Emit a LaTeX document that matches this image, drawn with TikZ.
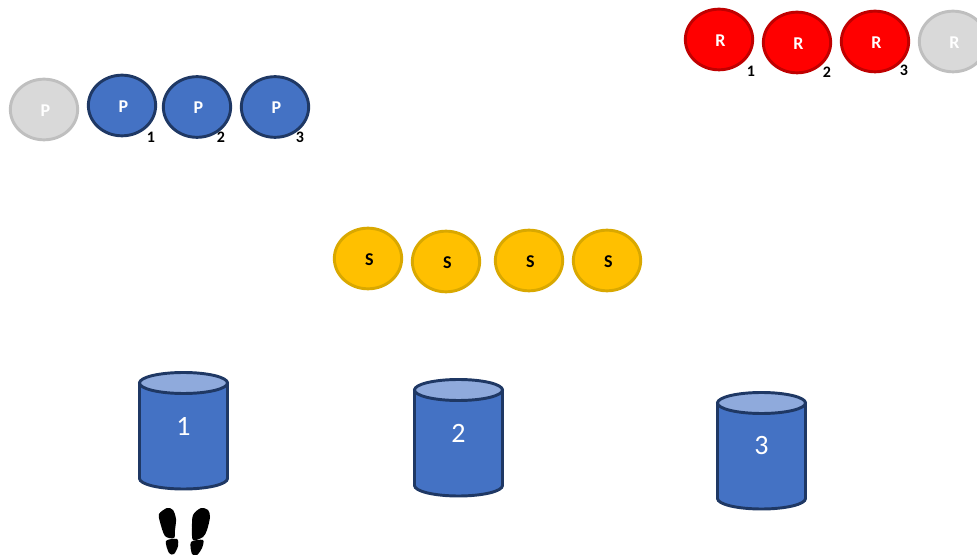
\documentclass[tikz,border=0pt]{standalone}
\usepackage{fontspec}
\setmainfont{Carlito}
\usetikzlibrary{shapes.geometric}
\definecolor{blueball}{HTML}{4472C4}
\definecolor{blueedge}{HTML}{1F3864}
\definecolor{bluetop}{HTML}{8FAADC}
\definecolor{redball}{HTML}{FF0000}
\definecolor{rededge}{HTML}{C00000}
\definecolor{goldball}{HTML}{FFC000}
\definecolor{goldedge}{HTML}{D9A800}
\definecolor{grayball}{HTML}{D9D9D9}
\definecolor{grayedge}{HTML}{BFBFBF}
\tikzset{
	ball/.style={ellipse, minimum width=50.5pt, minimum height=45.5pt, inner sep=0pt, outer sep=0pt, line width=2.2pt, text height=10.2pt, text depth=0pt, execute at begin node=\hspace*{2.2pt}, font=\bfseries\fontsize{13.5}{14}\selectfont},
	pball/.style={ball, draw=blueedge, fill=blueball, text=white},
	rball/.style={ball, draw=rededge, fill=redball, text=white},
	sball/.style={ball, draw=goldedge, fill=goldball, text=black},
	offball/.style={ball, draw=grayedge, fill=grayball, text=white},
	tag/.style={inner sep=0pt, font=\bfseries\fontsize{12}{13}\selectfont},
	tankbody/.style={draw=blueedge, fill=blueball, line width=2.2pt},
	tanktop/.style={draw=blueedge, fill=bluetop, line width=2.2pt},
	tanktext/.style={text=white, inner sep=0pt, font=\fontsize{21}{24}\selectfont},
	foot/.style={fill=black, draw=none}
}
\begin{document}
\begin{tikzpicture}[x=.75pt, y=-.75pt]
	\clip (0,0) rectangle (977,555);
	% gray ones
	\node[offball] (pball0) at (44,109.5) {P};
	\node[offball] (rball4) at (953,41.5) {R};
	% blue row
	\foreach \x/\y/\a/\b [count = \xi] in {122/105.5/151/137, 197/107/221/137, 275/107/300/137}
		{
			\node[pball] (pball\xi) at (\x,\y) {P};
			\node[tag] (ptag\xi) at (\a,\b) {\xi};
		}
	% red row
	\foreach \x/\y/\a/\b [count = \xi] in {719/39.5/751/71, 797/42.5/827/72, 875/41.5/904/70}
		{
			\node[rball] (rball\xi) at (\x,\y) {R};
			\node[tag] (rtag\xi) at (\a,\b) {\xi};
		}
	% middle row
	\foreach \x/\y [count = \xi] in {368/258.5, 446/261.5, 529/260.5, 607/260.5}
		{
			\node[sball] (sball\xi) at (\x,\y) {S};
		}
	% tanks
	\foreach \x/\y [count = \xi] in {183.5/431, 458.5/438, 761.5/451}
		{
			\begin{scope}[shift={(\x,\y)}]
				\draw[tankbody] (-44,-48) -- (-44,47.5) arc[x radius=44, y radius=10.5, start angle=180, end angle=0] -- (44,-48) -- cycle;
				\draw[tanktop] (0,-48) ellipse[x radius=44, y radius=10.5];
				\node[tanktext] (tanktext\xi) at (0,-5) {\xi};
			\end{scope}
		}
	% footprints
	\fill[foot] plot[smooth cycle] coordinates {(167,508) (173,510) (176,519) (175,530) (174,538) (165,536) (160,522) (159,514)};
	\fill[foot] plot[smooth cycle] coordinates {(166,541) (177,539) (178,546) (174,554) (169,553)};
	\fill[foot] plot[smooth cycle] coordinates {(201,508) (208,510) (210,517) (207,530) (203,537) (193,540) (192,528) (193,515)};
	\fill[foot] plot[smooth cycle] coordinates {(191,542) (203,540) (202,548) (197,555) (192,554)};
\end{tikzpicture}
\end{document}
